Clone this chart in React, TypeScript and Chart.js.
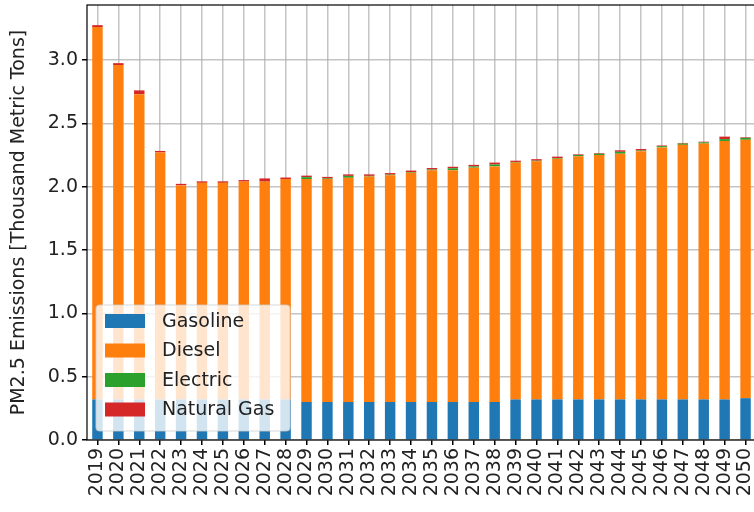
import React, { useEffect, useRef } from "react";
import { Chart, registerables } from "chart.js";

Chart.register(...registerables);

const years = [
  "2019", "2020", "2021", "2022", "2023", "2024", "2025", "2026", "2027", "2028",
  "2029", "2030", "2031", "2032", "2033", "2034", "2035", "2036", "2037", "2038",
  "2039", "2040", "2041", "2042", "2043", "2044", "2045", "2046", "2047", "2048",
  "2049", "2050",
];

const gasoline = [
  0.32, 0.32, 0.32, 0.32, 0.32, 0.32, 0.32, 0.32, 0.32, 0.32,
  0.30, 0.30, 0.30, 0.30, 0.30, 0.30, 0.30, 0.30, 0.30, 0.30,
  0.32, 0.32, 0.32, 0.32, 0.32, 0.32, 0.32, 0.32, 0.32, 0.32,
  0.32, 0.33,
];

const diesel = [
  2.94, 2.64, 2.41, 1.95, 1.69, 1.71, 1.71, 1.72, 1.72, 1.74,
  1.76, 1.76, 1.77, 1.78, 1.79, 1.81, 1.83, 1.83, 1.85, 1.86,
  1.87, 1.88, 1.90, 1.92, 1.93, 1.94, 1.96, 1.99, 2.01, 2.02,
  2.04, 2.04,
];

const electric = [
  0, 0, 0, 0, 0, 0, 0, 0, 0, 0,
  0.015, 0.005, 0.015, 0.005, 0.005, 0.005, 0.005, 0.015, 0.01, 0.015,
  0.005, 0.005, 0.005, 0.01, 0.01, 0.015, 0.005, 0.01, 0.01, 0.01,
  0.015, 0.015,
];

const naturalGas = [
  0.015, 0.015, 0.03, 0.012, 0.012, 0.012, 0.012, 0.012, 0.025, 0.012,
  0.012, 0.012, 0.012, 0.012, 0.012, 0.012, 0.012, 0.012, 0.012, 0.015,
  0.01, 0.012, 0.012, 0.005, 0.005, 0.012, 0.012, 0.005, 0.005, 0.005,
  0.02, 0.005,
];

const seriesNames = ["Gasoline", "Diesel", "Electric", "Natural Gas"];
const seriesColors = ["#1f77b4", "#ff7f0e", "#2ca02c", "#d62728"];

const yTitle = "PM2.5 Emissions [Thousand Metric Tons]";
const FONT = "'DejaVu Sans', sans-serif";
const FS = 19;

const framePlugin = {
  id: "frame",
  afterDatasetsDraw(chart: any) {
    const { ctx, chartArea } = chart;
    const { left, right, top, bottom } = chartArea;
    const lx = 96, ly = 305, lw = 194, lh = 126;
    ctx.save();
    ctx.beginPath();
    const r = 4;
    ctx.moveTo(lx + r, ly);
    ctx.lineTo(lx + lw - r, ly);
    ctx.quadraticCurveTo(lx + lw, ly, lx + lw, ly + r);
    ctx.lineTo(lx + lw, ly + lh - r);
    ctx.quadraticCurveTo(lx + lw, ly + lh, lx + lw - r, ly + lh);
    ctx.lineTo(lx + r, ly + lh);
    ctx.quadraticCurveTo(lx, ly + lh, lx, ly + lh - r);
    ctx.lineTo(lx, ly + r);
    ctx.quadraticCurveTo(lx, ly, lx + r, ly);
    ctx.closePath();
    ctx.fillStyle = "rgba(255,255,255,0.8)";
    ctx.fill();
    ctx.strokeStyle = "rgba(204,204,204,0.8)";
    ctx.lineWidth = 1.2;
    ctx.stroke();
    ctx.font = `${FS}px ${FONT}`;
    ctx.textBaseline = "middle";
    ctx.textAlign = "left";
    seriesNames.forEach((name, i) => {
      const cy = 321 + i * 29.5;
      ctx.fillStyle = seriesColors[i];
      ctx.fillRect(105, cy - 7, 40, 14);
      ctx.fillStyle = "#222";
      ctx.fillText(name, 162, cy + 1);
    });
    ctx.strokeStyle = "#000";
    ctx.lineWidth = 1.2;
    ctx.strokeRect(left, top, right - left, bottom - top);
    ctx.restore();
  },
};

export default function App() {
  const ref = useRef<HTMLCanvasElement | null>(null);
  useEffect(() => {
    if (!ref.current) return;
    const values = [gasoline, diesel, electric, naturalGas];
    const chart = new Chart(ref.current, {
      type: "bar",
      data: {
        labels: years,
        datasets: seriesNames.map((name, i) => ({
          label: name,
          data: values[i],
          backgroundColor: seriesColors[i],
          borderWidth: 0,
          categoryPercentage: 1,
          barPercentage: 0.5,
        })),
      },
      options: {
        responsive: false,
        animation: false,
        layout: { padding: { top: 5, right: 4, left: 0, bottom: 0 } },
        plugins: { legend: { display: false }, tooltip: { enabled: false } },
        scales: {
          x: {
            stacked: true,
            offset: true,
            grid: {
              offset: false,
              color: "rgba(176,176,176,0.75)",
              lineWidth: 1.5,
              tickColor: "#000",
              tickLength: 5,
            },
            border: { display: false },
            ticks: {
              autoSkip: false,
              minRotation: 90,
              maxRotation: 90,
              color: "#222",
              padding: 3,
              font: { family: FONT, size: FS },
            },
            afterFit: (scale: any) => {
              scale.height = 72;
              scale.paddingLeft = 0;
              scale.paddingRight = 0;
            },
          },
          y: {
            stacked: true,
            min: 0,
            max: 3.434,
            grid: {
              color: "rgba(176,176,176,0.75)",
              lineWidth: 1.5,
              tickColor: "#000",
              tickLength: 5,
            },
            border: { display: false },
            ticks: {
              stepSize: 0.5,
              color: "#222",
              padding: 4,
              font: { family: FONT, size: FS },
              callback: (v: any) => Number(v).toFixed(1),
            },
            afterBuildTicks: (scale: any) => {
              scale.ticks = scale.ticks.filter((t: any) => t.value <= 3.0001);
            },
            title: {
              display: true,
              text: yTitle,
              color: "#222",
              font: { family: FONT, size: FS },
              padding: { top: 8, bottom: 0 },
            },
            afterFit: (scale: any) => {
              scale.width = 87;
              scale.paddingTop = 0;
              scale.paddingBottom = 0;
            },
          },
        },
      },
      plugins: [framePlugin],
    });
    return () => chart.destroy();
  }, []);
  return (
    <div style={{ position: "absolute", left: 0, top: 0, width: 754, height: 512, overflow: "hidden", background: "#fff" }}>
      <canvas ref={ref} width={760} height={512} style={{ width: 760, height: 512, display: "block" }} />
    </div>
  );
}
